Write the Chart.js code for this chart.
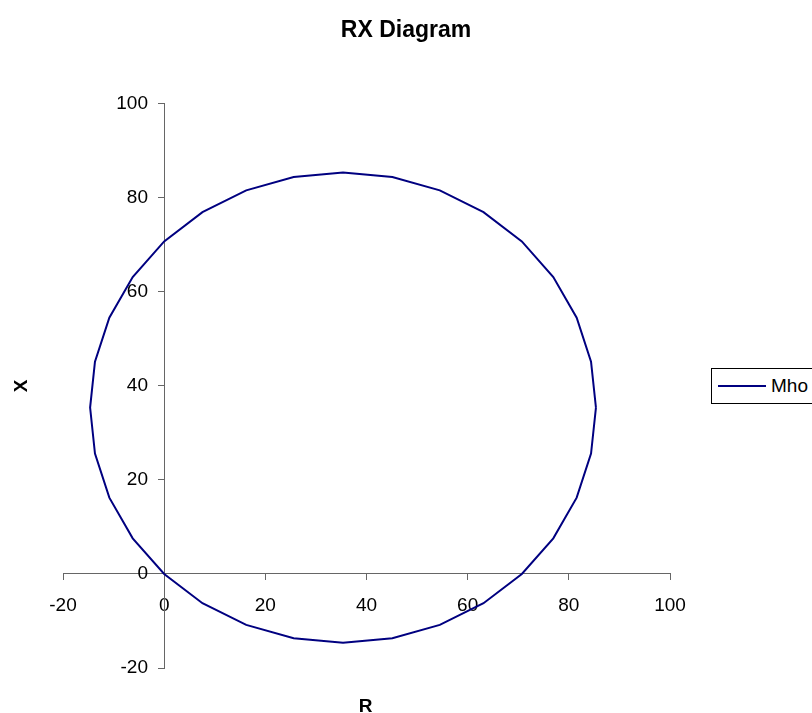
<!DOCTYPE html>
<html>
<head>
<meta charset="utf-8">
<script src="https://cdn.jsdelivr.net/npm/chart.js@4/dist/chart.umd.min.js"></script>
<style>
  html, body { margin: 0; padding: 0; background: #fff; overflow: hidden; }
  #wrap { position: relative; width: 812px; height: 713px; overflow: hidden; }
  #legend {
    position: absolute; left: 711px; top: 368px; height: 36px; width: 120px;
    border: 1px solid #000; background: #fff; box-sizing: border-box;
    font-family: "Liberation Sans", Arial, sans-serif; font-size: 19px;
    display: flex; align-items: center; white-space: nowrap;
  }
  #legend .swatch { display: inline-block; width: 48px; margin: 0 5px 0 6px; border-top: 2px solid; }
</style>
</head>
<body>
<div id="wrap">
  <canvas id="rxChart" width="812" height="713"></canvas>
  <div id="legend"></div>
</div>
<script>
const seriesName = 'Mho';
const rValues = [85.36, 84.39, 81.55, 76.93, 70.71, 63.13, 54.49, 45.11, 35.36, 25.60, 16.22, 7.57, 0, -6.22, -10.84, -13.68,
                 -14.64, -13.68, -10.84, -6.22, 0, 7.57, 16.22, 25.60, 35.36, 45.11, 54.49, 63.13, 70.71, 76.93, 81.55, 84.39, 85.36];
const xValues = [35.36, 45.11, 54.49, 63.13, 70.71, 76.93, 81.55, 84.39, 85.36, 84.39, 81.55, 76.93, 70.71, 63.13, 54.49, 45.11,
                 35.36, 25.60, 16.22, 7.57, 0, -6.22, -10.84, -13.68, -14.64, -13.68, -10.84, -6.22, 0, 7.57, 16.22, 25.60, 35.36];
const rTicks = [-20, 0, 20, 40, 60, 80, 100];
const xTicks = [-20, 0, 20, 40, 60, 80, 100];

const fontFamily = '"Liberation Sans", Arial, sans-serif';
const axisColor = '#666';

// axis titles "X" and "R" sit outside the centred axes, so draw them here
const axisTitles = {
    id: 'axisTitles',
    afterDraw(chart) {
        const { ctx, chartArea } = chart;
        ctx.save();
        ctx.fillStyle = '#000';
        ctx.font = 'bold 19px ' + fontFamily;
        ctx.textAlign = 'center';
        ctx.textBaseline = 'middle';
        ctx.fillText('R', (chartArea.left + chartArea.right) / 2 - 1, chartArea.bottom + 39);
        ctx.translate(chartArea.left - 41, (chartArea.top + chartArea.bottom) / 2);
        ctx.rotate(-Math.PI / 2);
        ctx.fillText('X', 0, 0);
        ctx.restore();
    }
};

const htmlLegend = {
    id: 'htmlLegend',
    afterUpdate(chart) {
        const box = document.getElementById('legend');
        box.innerHTML = '';
        chart.data.datasets.forEach((ds) => {
            const sw = document.createElement('span');
            sw.className = 'swatch';
            sw.style.borderTopColor = ds.borderColor;
            box.appendChild(sw);
            box.appendChild(document.createTextNode(ds.label));
        });
    }
};

const points = rValues.map((r, i) => ({ x: r, y: xValues[i] }));
const tickFont = { family: fontFamily, size: 19 };

const rxChart = new Chart(document.getElementById('rxChart'), {
    type: 'scatter',
    data: {
        datasets: [{
            label: seriesName,
            data: points,
            showLine: true,
            borderColor: '#000080',
            borderWidth: 2,
            pointRadius: 0,
            tension: 0
        }]
    },
    options: {
        responsive: false,
        animation: false,
        layout: { padding: { left: 63, right: 63, top: 0, bottom: 45 } },
        scales: {
            x: {
                type: 'linear',
                position: { y: 0 },
                min: -20, max: 100,
                afterBuildTicks: (axis) => { axis.ticks = rTicks.map(v => ({ value: v })); },
                grid: { drawOnChartArea: false, drawTicks: true, tickLength: 6, tickColor: axisColor },
                border: { display: true, color: axisColor, width: 1 },
                ticks: { color: '#000', font: tickFont, padding: 14, maxRotation: 0 }
            },
            y: {
                type: 'linear',
                position: { x: 0 },
                min: -20, max: 100,
                afterBuildTicks: (axis) => { axis.ticks = xTicks.map(v => ({ value: v })); },
                grid: { drawOnChartArea: false, drawTicks: true, tickLength: 6, tickColor: axisColor },
                border: { display: true, color: axisColor, width: 1 },
                ticks: { display: false }
            },
            // labels for the vertical axis, set a little to the left of R = 0
            yLabels: {
                type: 'linear',
                axis: 'y',
                position: { x: -3.2 },
                min: -20, max: 100,
                afterBuildTicks: (axis) => { axis.ticks = xTicks.map(v => ({ value: v })); },
                grid: { display: false },
                border: { display: false },
                ticks: { color: '#000', font: tickFont, padding: 0 }
            },
            // empty strip on the right where the legend sits (keeps the title centred on the page)
            legendGap: {
                type: 'linear',
                axis: 'y',
                position: 'right',
                grid: { display: false },
                border: { display: false },
                ticks: { display: false },
                afterFit: (scale) => { scale.width = 79; }
            }
        },
        plugins: {
            legend: { display: false },
            tooltip: { enabled: false },
            title: {
                display: true,
                text: 'RX Diagram',
                color: '#000',
                font: { family: fontFamily, size: 23, weight: 'bold' },
                padding: { top: 17, bottom: 59 }
            }
        }
    },
    plugins: [axisTitles, htmlLegend]
});
</script>
</body>
</html>
